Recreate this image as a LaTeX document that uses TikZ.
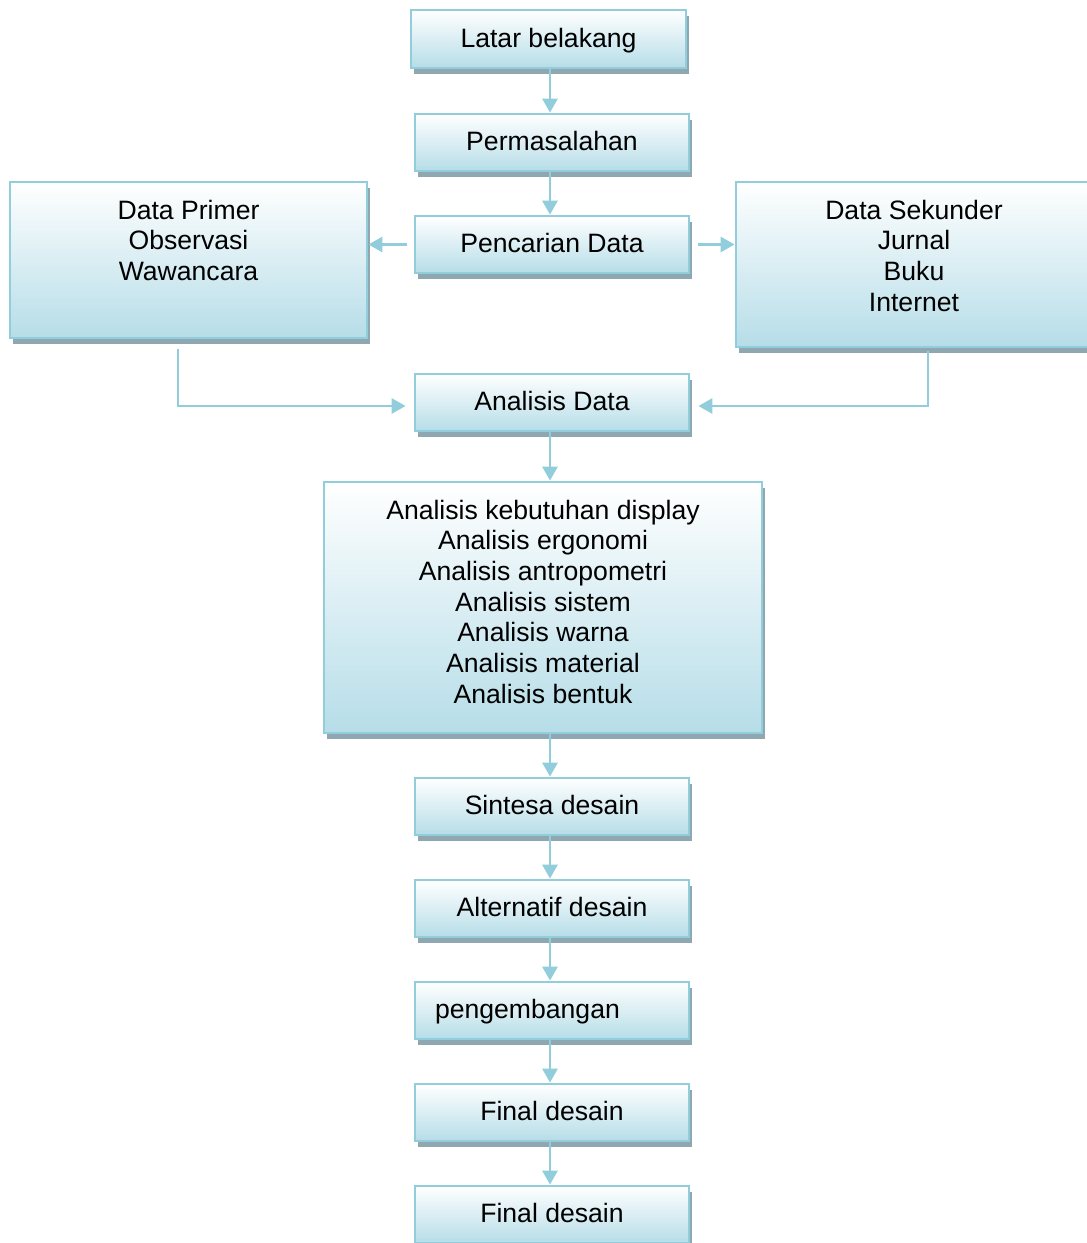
\documentclass[tikz,border=0pt]{standalone}
\usepackage{fontspec}
\setmainfont{Liberation Sans}
\usetikzlibrary{arrows.meta,shadows}
\definecolor{bordc}{HTML}{92CDDC}
\definecolor{fillb}{HTML}{B6DDE8}
\definecolor{shadc}{HTML}{8FA7B1}
\begin{document}
\begin{tikzpicture}[x=0.5pt,y=-0.5pt,
  font=\fontsize{13.3}{15.35}\selectfont,
  box/.style={draw=bordc, line width=1.4pt, top color=white, bottom color=fillb,
    drop shadow={shadow xshift=1.5pt, shadow yshift=-2.75pt, fill=shadc, opacity=1},
    text height=9.5pt, text depth=1.5pt, inner sep=0pt, align=center},
  sbox/.style={box, minimum width=137pt, minimum height=28.5pt},
  txt/.style={anchor=north, inner sep=0pt, align=center},
  arr/.style={draw=bordc, line width=1.45pt, -{Triangle[width=7.5pt,length=7pt]}}]
\useasboundingbox (0,0) rectangle (1087,1243);
% boxes
\node[box, minimum width=137.5pt, minimum height=29pt] (lb) at (548.5,39) {Latar belakang};
\node[sbox] (pm) at (552,142.5) {Permasalahan};
\node[sbox] (pc) at (552,244.5) {Pencarian Data};
\node[box, minimum width=178.5pt, minimum height=78pt] (pr) at (188.5,260) {};
\node[txt] (prt) at (188.5,199.5) {Data Primer\\Observasi\\Wawancara};
\node[box, minimum width=180.5pt, minimum height=82.5pt] (sk) at (916.5,264.5) {};
\node[txt] (skt) at (914,199.5) {Data Sekunder\\Jurnal\\Buku\\Internet};
\node[sbox] (ad) at (552,402.5) {Analisis Data};
\node[box, minimum width=219pt, minimum height=125.5pt] (an) at (543,607.5) {};
\node[txt] (ant) at (543,499.5) {Analisis kebutuhan display\\Analisis ergonomi\\Analisis antropometri\\Analisis sistem\\Analisis warna\\Analisis material\\Analisis bentuk};
\node[sbox] (sd) at (552,806.5) {Sintesa desain};
\node[sbox] (al) at (552,908.5) {Alternatif desain};
\node[sbox, align=left, text width=117pt, inner xsep=10pt] (pg) at (552,1010.5) {pengembangan};
\node[sbox] (f1) at (552,1112.5) {Final desain};
\node[sbox] (f2) at (552,1214.5) {Final desain};
% guide coordinates
\coordinate (mx) at (550,0);
\coordinate (px) at (178,0);
\coordinate (sx) at (928,0);
\coordinate (ay) at (0,406);
% connectors
\draw[arr] (mx |- lb.south) -- (mx |- pm.north);
\draw[arr] (mx |- pm.south) -- (mx |- pc.north);
\draw[arr, shorten <=3.5pt] (pc.west) -- (pc.west -| pr.east);
\draw[arr, shorten <=4pt] (pc.east) -- (pc.east -| sk.west);
\draw[arr, shorten <=5pt, shorten >=4pt] (px |- pr.south) -- (px |- ay) -- (ad.west |- ay);
\draw[arr, shorten <=1.5pt, shorten >=4pt] (sx |- sk.south) -- (sx |- ay) -- (ad.east |- ay);
\draw[arr] (mx |- ad.south) -- (mx |- an.north);
\draw[arr] (mx |- an.south) -- (mx |- sd.north);
\draw[arr] (mx |- sd.south) -- (mx |- al.north);
\draw[arr] (mx |- al.south) -- (mx |- pg.north);
\draw[arr] (mx |- pg.south) -- (mx |- f1.north);
\draw[arr] (mx |- f1.south) -- (mx |- f2.north);
\end{tikzpicture}
\end{document}
